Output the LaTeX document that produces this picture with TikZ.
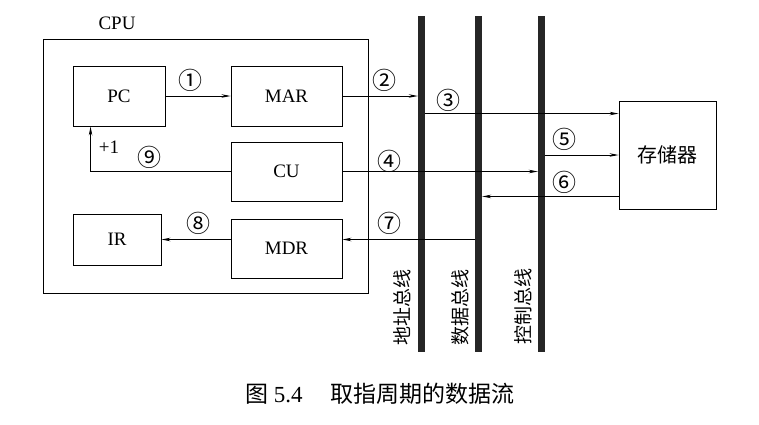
\documentclass[tikz,border=0pt]{standalone}
\usepackage{fontspec}
\setmainfont{Liberation Serif}
\newfontfamily\cjk{Noto Sans CJK SC}
\usetikzlibrary{arrows.meta,calc}
\begin{document}
\begin{tikzpicture}[x=1pt,y=-1pt,
		box/.style={draw, line width=0.9pt, inner sep=0pt, font=\fontsize{19}{22}\selectfont},
		bus/.style={fill=black!85, minimum width=7pt, minimum height=336pt, inner sep=0pt},
		arr/.style={line width=0.8pt, -{Stealth[length=9pt,width=3.5pt]}},
		num/.style={font=\cjk\fontsize{24}{26}\selectfont, inner sep=0pt},
		busname/.style={rotate=90, font=\cjk\fontsize{19}{22}\selectfont, inner sep=0pt}]
		\useasboundingbox (0,0) rectangle (759,424);
		\node[box, minimum width=325pt, minimum height=254pt] (cpu) at (205.5,166) {};
		\node[font=\fontsize{19}{22}\selectfont] (cpulab) at (117,23) {CPU};
		\node[box, minimum width=92pt, minimum height=60pt] (pc) at (119,96) {PC};
		\node[box, minimum width=111pt, minimum height=60pt] (mar) at (286.5,96) {MAR};
		\node[box, minimum width=111pt, minimum height=59pt] (cu) at (286.5,171.5) {CU};
		\node[box, minimum width=88pt, minimum height=51pt] (ir) at (117,239.5) {IR};
		\node[box, minimum width=111pt, minimum height=59pt] (mdr) at (286.5,248.5) {MDR};
		\node[box, minimum width=97pt, minimum height=108pt, font=\cjk\fontsize{20}{24}\selectfont] (mem) at (667.5,155) {存储器};
		\node[bus] (ab) at (421.5,184) {};
		\node[bus] (db) at (478.5,184) {};
		\node[bus] (cb) at (541.5,184) {};
		\node[busname] (abname) at (402,307) {地址总线};
		\node[busname] (dbname) at (460,307) {数据总线};
		\node[busname] (cbname) at (523,306) {控制总线};
		\coordinate (m3) at ($(mem.north west)+(0,13)$);
		\coordinate (m6) at ($(mem.south west)+(0,-13)$);
		\draw[arr] (pc) -- (mar);
		\draw[arr] (mar) -- (mar -| ab.west);
		\draw[arr] (m3 -| ab.east) -- (m3);
		\draw[arr] (cu) -- (cu -| cb.west);
		\draw[arr] (mem.west -| cb.east) -- (mem.west);
		\draw[arr] (m6) -- (m6 -| db.east);
		\draw[arr] (ir.east -| db.west) -- (ir.east -| mdr.east);
		\draw[arr] (mdr.west |- ir.east) -- (ir.east);
		\draw[arr] (cu.west) -| ($(pc.south west)+(18,0)$);
		\node[num] (n1) at (190,80) {①};
		\node[num] (n2) at (384.5,80) {②};
		\node[num] (n3) at (448,100) {③};
		\node[num] (n4) at (389,161) {④};
		\node[num] (n5) at (564,139) {⑤};
		\node[num] (n6) at (564,182) {⑥};
		\node[num] (n7) at (389,223) {⑦};
		\node[num] (n8) at (198,223) {⑧};
		\node[num] (n9) at (149,157) {⑨};
		\node[font=\fontsize{19}{22}\selectfont] (inc) at (109,147) {+1};
		\node[font=\fontsize{23}{26}\selectfont, anchor=west, inner sep=0pt] (caption) at (245,394) {{\cjk 图} 5.4\hspace{1.2em}{\cjk 取指周期的数据流}};
	\end{tikzpicture}
\end{document}
